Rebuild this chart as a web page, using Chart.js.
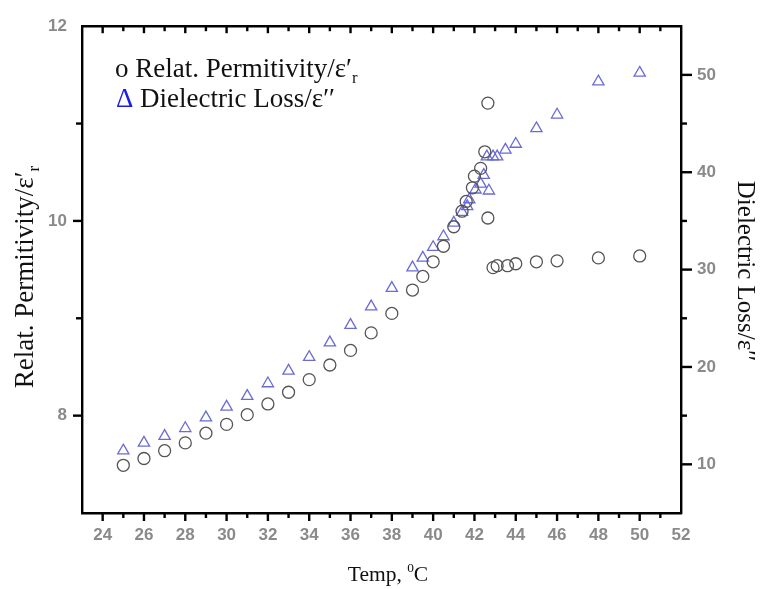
<!DOCTYPE html>
<html><head><meta charset="utf-8">
<script src="https://cdn.jsdelivr.net/npm/chart.js@4.4.1/dist/chart.umd.min.js"></script>
<style>html,body{margin:0;padding:0;background:#fff;overflow:hidden}canvas{display:block}</style>
</head><body>
<canvas id="c" width="764" height="589"></canvas>
<script>
// ---- data ----
const tempPermit = [25,26,27,28,29,30,31,32,33,34,35,36,37,38,39,39.5,40,40.5,41,41.4,41.6,41.9,42,42.3,42.5,42.65,42.65,42.9,43.1,43.6,44,45,46,48,50];
const permittivity = [7.49,7.56,7.64,7.72,7.82,7.91,8.01,8.12,8.24,8.37,8.52,8.67,8.85,9.05,9.29,9.43,9.58,9.74,9.94,10.10,10.20,10.34,10.46,10.54,10.71,11.21,10.03,9.52,9.54,9.54,9.56,9.58,9.59,9.62,9.64];
const tempLoss = [25,26,27,28,29,30,31,32,33,34,35,36,37,38,39,39.5,40,40.5,41,41.4,41.65,41.75,42.05,42.3,42.45,42.7,42.6,42.9,43.1,43.5,44,45,46,48,50];
const dielectricLoss = [11.4,12.2,12.9,13.7,14.8,15.9,17.0,18.3,19.6,21.0,22.5,24.3,26.2,28.1,30.2,31.2,32.3,33.4,34.8,35.9,36.5,37.2,38.2,38.8,39.7,38.1,41.6,41.6,41.6,42.3,42.9,44.5,45.9,49.3,50.2];
const xTickLabels = [24,26,28,30,32,34,36,38,40,42,44,46,48,50,52];
const leftTickLabels = [8,10,12];
const rightTickLabels = [10,20,30,40,50];
const xTitle = ['Temp, ', '0', 'C'];
const leftTitle = ['Relat. Permitivity/ε′', 'r'];
const rightTitle = 'Dielectric Loss/ε′′';
const legendRow1 = ['o Relat. Permitivity/ε′', 'r'];
const legendRow2 = ['Δ', ' Dielectric Loss/ε′′'];

const SERIF = '"Liberation Serif","DejaVu Serif",serif';
const SANS = '"Liberation Sans","Arial",sans-serif';
const tickFont = {family: SANS, size: 17, weight: 'bold'};
const tickColor = '#8a8a8a';

function drawRich(ctx, parts, x, y, size, align) {
  let w = 0;
  parts.forEach(p => { ctx.font = (p.small ? size*0.62 : size) + 'px ' + SERIF; p.w = ctx.measureText(p.t).width; w += p.w; });
  let cx = align === 'center' ? x - w/2 : x;
  ctx.textAlign = 'left'; ctx.textBaseline = 'alphabetic';
  parts.forEach(p => {
    ctx.font = (p.small ? size*0.62 : size) + 'px ' + SERIF;
    ctx.fillStyle = p.color || '#111';
    ctx.fillText(p.t, cx, y + (p.dy || 0));
    cx += p.w;
  });
}

const decor = {
  id: 'decor',
  afterDraw(chart) {
    const ctx = chart.ctx;
    const {x, x2, y, y2} = chart.scales;
    ctx.save();
    ctx.strokeStyle = '#000'; ctx.lineWidth = 2.4; ctx.lineCap = 'butt';
    const line = (a,b,c,d) => { ctx.beginPath(); ctx.moveTo(a,b); ctx.lineTo(c,d); ctx.stroke(); };
    x.ticks.forEach(t => {
      if (t.value <= x.min || t.value >= x.max) return;
      const px = x.getPixelForValue(t.value);
      const major = xTickLabels.includes(t.value);
      line(px, x.top, px, x.top + (major ? 8 : 5));
      line(px, x2.bottom, px, x2.bottom + (major ? 7 : 5));
    });
    y.ticks.forEach(t => {
      if (t.value <= y.min || t.value >= y.max) return;
      const py = y.getPixelForValue(t.value);
      line(y.right, py, y.right - (leftTickLabels.includes(t.value) ? 9 : 6), py);
    });
    y2.ticks.forEach(t => {
      if (t.value <= y2.min || t.value >= y2.max) return;
      const py = y2.getPixelForValue(t.value);
      line(y2.left, py, y2.left + (rightTickLabels.includes(t.value) ? 11 : 6), py);
    });
    // axis titles
    drawRich(ctx, [{t: xTitle[0]}, {t: xTitle[1], small: true, dy: -9}, {t: xTitle[2]}], 388, 581, 21.5, 'center');
    ctx.save(); ctx.translate(33, 277); ctx.rotate(-Math.PI/2);
    drawRich(ctx, [{t: leftTitle[0]}, {t: leftTitle[1], small: true, dy: 6}], 0, 0, 27, 'center');
    ctx.restore();
    ctx.save(); ctx.translate(738, 271); ctx.rotate(Math.PI/2);
    drawRich(ctx, [{t: rightTitle}], 0, 0, 25, 'center');
    ctx.restore();
    // legend
    drawRich(ctx, [{t: legendRow1[0]}, {t: legendRow1[1], small: true, dy: 6}], 115, 77, 27, 'left');
    drawRich(ctx, [{t: legendRow2[0], color: '#1c1ce6'}, {t: legendRow2[1]}], 116, 107, 27, 'left');
    ctx.restore();
  }
};

const border = {display: true, color: '#000', width: 2.4};
new Chart(document.getElementById('c'), {
  type: 'scatter',
  data: {
    datasets: [
      {
        label: 'Relat. Permitivity',
        data: tempPermit.map((t,i) => ({x: t, y: permittivity[i]})),
        xAxisID: 'x', yAxisID: 'y',
        pointStyle: 'circle', pointRadius: 6, borderColor: '#555', borderWidth: 1.3,
        backgroundColor: 'rgba(0,0,0,0)'
      },
      {
        label: 'Dielectric Loss',
        data: tempLoss.map((t,i) => ({x: t, y: dielectricLoss[i]})),
        xAxisID: 'x', yAxisID: 'y2',
        pointStyle: 'triangle', pointRadius: 6.5, borderColor: '#6b6bd6', borderWidth: 1.3,
        backgroundColor: 'rgba(0,0,0,0)'
      }
    ]
  },
  options: {
    responsive: false, animation: false, devicePixelRatio: 1,
    layout: {padding: 0},
    plugins: {legend: {display: false}, tooltip: {enabled: false}},
    scales: {
      x: {
        type: 'linear', position: 'bottom', min: 23, max: 52,
        afterFit: s => { s.height = 76; },
        grid: {display: false, drawTicks: false}, border,
        ticks: {stepSize: 1, includeBounds: false, autoSkip: false, maxRotation: 0, padding: 12,
          font: tickFont, color: tickColor,
          callback: v => xTickLabels.includes(v) ? String(v) : ''}
      },
      x2: {
        type: 'linear', position: 'top', min: 23, max: 52,
        afterFit: s => { s.height = 19; },
        grid: {display: false, drawTicks: false}, border,
        ticks: {display: false}
      },
      y: {
        type: 'linear', position: 'left', min: 7, max: 12,
        afterFit: s => { s.width = 82; },
        grid: {display: false, drawTicks: false}, border,
        ticks: {stepSize: 1, autoSkip: false, padding: 15, font: tickFont, color: tickColor,
          callback: v => leftTickLabels.includes(v) ? String(v) : ''}
      },
      y2: {
        type: 'linear', position: 'right', min: 5, max: 55,
        afterFit: s => { s.width = 83; },
        grid: {display: false, drawTicks: false}, border,
        ticks: {stepSize: 5, autoSkip: false, padding: 16, font: tickFont, color: tickColor,
          callback: v => rightTickLabels.includes(v) ? String(v) : ''}
      }
    }
  },
  plugins: [decor]
});
</script>
</body></html>
